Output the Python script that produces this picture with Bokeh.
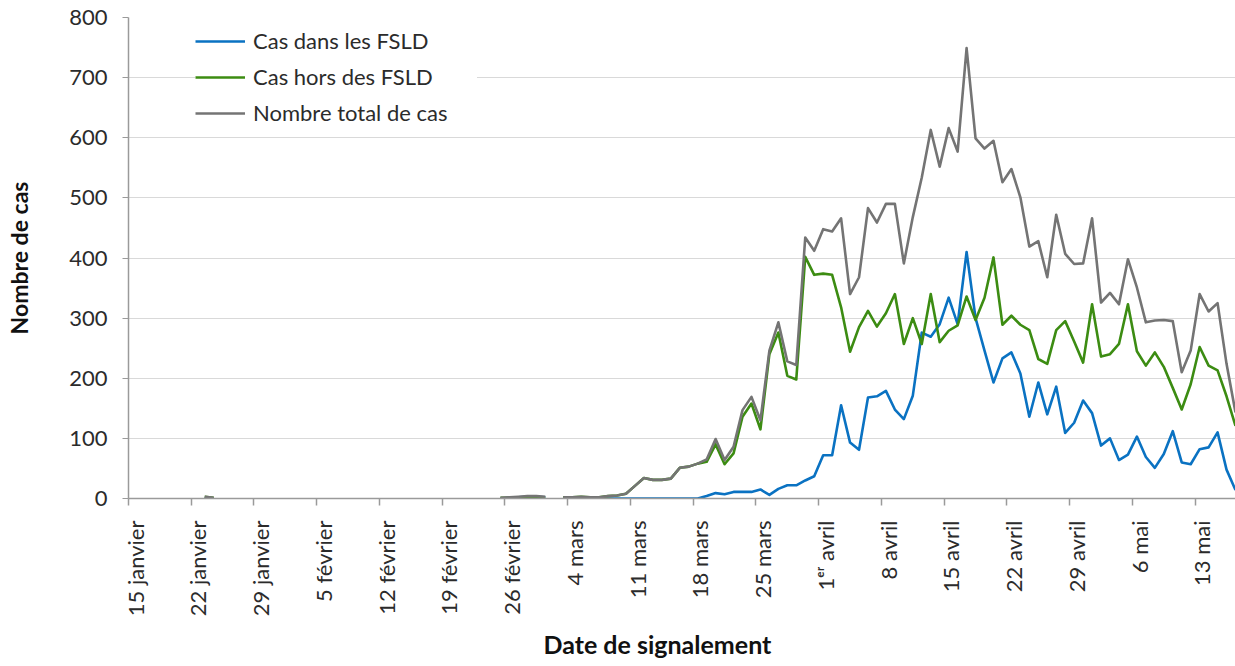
import math
import numpy as np
import pandas as pd
from bokeh.plotting import figure
from bokeh.models import Range1d, FixedTicker, Legend, LegendItem, Title
from bokeh.embed import file_html
from bokeh.resources import INLINE

# ---------------- data ----------------
origin = "2020-01-15"
# reporting periods with data (gaps in between are not plotted)
periods = [("2020-01-23", "2020-01-24"),
           ("2020-02-25", "2020-03-01"),
           ("2020-03-03", "2020-05-17")]

cas_fsld = [0, 0,
            0, 1, 2, 3, 3, 2,
            0, 0, 0, 0, 0, 0, 0, 0, 0, 0, 0, 0, 0, 0, 0, 0,
            4, 9, 7, 11, 11, 11, 15, 6, 16, 22, 22, 30, 37, 72, 72, 155, 93, 81,
            168, 170, 179, 148, 132, 171, 276, 269, 290, 334, 290, 410, 300, 246,
            193, 233, 243, 208, 136, 193, 140, 186, 109, 126, 163, 142, 88, 100,
            64, 73, 103, 69, 51, 74, 112, 60, 57, 82, 85, 110, 48, 14]

cas_hors = [3, 1,
            1, 1, 1, 1, 1, 1,
            2, 2, 3, 2, 2, 4, 5, 8, 21, 34, 31, 31, 33, 51, 53,
            58, 61, 90, 57, 75, 136, 158, 115, 240, 276, 204, 198, 402, 372, 374,
            372, 318, 244, 285, 312, 286, 308, 340, 257, 300, 257, 340, 260, 279,
            288, 336, 297, 334, 401, 289, 304, 289, 280, 232, 224, 280, 295, 261,
            226, 323, 236, 240, 257, 323, 245, 221, 243, 219, 184, 148, 190, 252,
            221, 213, 170, 121]

cas_total = [3, 1,
             1, 2, 3, 4, 4, 3,
             2, 2, 3, 2, 2, 4, 5, 8, 21, 34, 31, 31, 33, 51, 53,
             58, 65, 99, 64, 86, 147, 169, 130, 246, 293, 228, 222, 434, 412, 448,
             444, 466, 340, 368, 483, 459, 490, 490, 391, 468, 534, 613, 552, 616,
             577, 749, 599, 582, 595, 526, 548, 501, 419, 428, 368, 472, 407, 390,
             391, 466, 326, 342, 323, 398, 351, 293, 296, 297, 295, 210, 246, 340,
             311, 325, 224, 143]

tick_dates = ["2020-01-15", "2020-01-22", "2020-01-29", "2020-02-05", "2020-02-12",
              "2020-02-19", "2020-02-26", "2020-03-04", "2020-03-11", "2020-03-18",
              "2020-03-25", "2020-04-01", "2020-04-08", "2020-04-15", "2020-04-22",
              "2020-04-29", "2020-05-06", "2020-05-13"]
tick_labels = ["15 janvier", "22 janvier", "29 janvier", "5 février", "12 février",
               "19 février", "26 février", "4 mars", "11 mars", "18 mars",
               "25 mars", "1ᵉʳ avril", "8 avril", "15 avril", "22 avril",
               "29 avril", "6 mai", "13 mai"]

series_names = ["Cas dans les FSLD", "Cas hors des FSLD", "Nombre total de cas"]
series_colors = ["#0A72C2", "#3C8C12", "#747474"]

# ---------------- helpers ----------------
t0 = pd.Timestamp(origin)
dates = pd.DatetimeIndex(np.concatenate([pd.date_range(a, b).values for a, b in periods]))
xpos = np.asarray((dates - t0).days, dtype=float) + 0.5   # points centred in their day


def with_gaps(xs, ys):
    ox, oy, prev = [], [], None
    for xi, yi in zip(xs, ys):
        if prev is not None and xi - prev > 1:
            ox.append(np.nan)
            oy.append(np.nan)
        ox.append(float(xi))
        oy.append(float(yi))
        prev = xi
    return ox, oy


FONT = "Lato"
GREY = "#9A9A9A"
TXT = "#2B2B2B"

p = figure(width=1235, height=666, x_range=Range1d(0, 123.5), y_range=Range1d(0, 800),
           output_backend="svg", toolbar_location=None,
           min_border_left=128, min_border_right=0, min_border_top=17, min_border_bottom=168)
p.outline_line_color = None
p.background_fill_color = "white"
p.border_fill_color = "white"

renderers = []
for vals, name, col in zip([cas_fsld, cas_hors, cas_total], series_names, series_colors):
    gx, gy = with_gaps(xpos, vals)
    r = p.line(gx, gy, line_color=col, line_width=2.6, line_join="round")
    renderers.append((name, r))

# x axis: tick marks at the start of each week day, labels slightly right of them
tick_pos = [float((pd.Timestamp(d) - t0).days) for d in tick_dates]
lab_pos = [t + 0.75 for t in tick_pos]
p.xaxis.ticker = FixedTicker(ticks=lab_pos, minor_ticks=tick_pos)
p.xaxis.major_label_overrides = {k: v for k, v in zip(lab_pos, tick_labels)}
p.xaxis.major_label_orientation = math.pi / 2
p.xaxis.major_tick_out = 0
p.xaxis.major_tick_in = 0
p.xaxis.minor_tick_out = 7
p.xaxis.minor_tick_in = 0
p.xaxis.minor_tick_line_color = GREY
p.xaxis.minor_tick_line_width = 1.5
p.xaxis.axis_line_color = GREY
p.xaxis.axis_line_width = 1.5
p.xaxis.major_label_standoff = 15
p.xaxis.major_label_text_font = FONT
p.xaxis.major_label_text_font_size = "22px"
p.xaxis.major_label_text_color = TXT

p.yaxis.ticker = FixedTicker(ticks=list(range(0, 801, 100)))
p.yaxis.major_tick_out = 6
p.yaxis.major_tick_in = 0
p.yaxis.minor_tick_line_color = None
p.yaxis.major_tick_line_color = GREY
p.yaxis.axis_line_color = GREY
p.yaxis.axis_line_width = 1.5
p.yaxis.major_label_standoff = 15
p.yaxis.major_label_text_font = FONT
p.yaxis.major_label_text_font_size = "22px"
p.yaxis.major_label_text_color = TXT
p.yaxis.axis_label = "Nombre de cas"
p.yaxis.axis_label_standoff = 33
p.yaxis.axis_label_text_font = FONT
p.yaxis.axis_label_text_font_style = "bold"
p.yaxis.axis_label_text_font_size = "23px"
p.yaxis.axis_label_text_color = "#111111"

p.xgrid.visible = False
p.ygrid.grid_line_color = "#D9D9D9"
p.ygrid.grid_line_width = 1.2

# x axis title (placed left-aligned with an offset, as in the original)
p.add_layout(Title(text="Date de signalement", align="left", offset=415, standoff=14,
                   vertical_align="bottom", text_font=FONT, text_font_style="bold",
                   text_font_size="25px", text_color="#111111"), "below")

legend = Legend(items=[LegendItem(label=n, renderers=[r]) for n, r in renderers],
                location=(67, 372), orientation="vertical",
                glyph_width=50, glyph_height=24, label_height=24, spacing=9,
                label_standoff=8, padding=8, label_width=224,
                label_text_font=FONT, label_text_font_size="22px", label_text_color=TXT,
                border_line_color=None, background_fill_color="white", background_fill_alpha=1.0)
p.add_layout(legend)

open("out.html", "w").write(file_html(p, INLINE))
